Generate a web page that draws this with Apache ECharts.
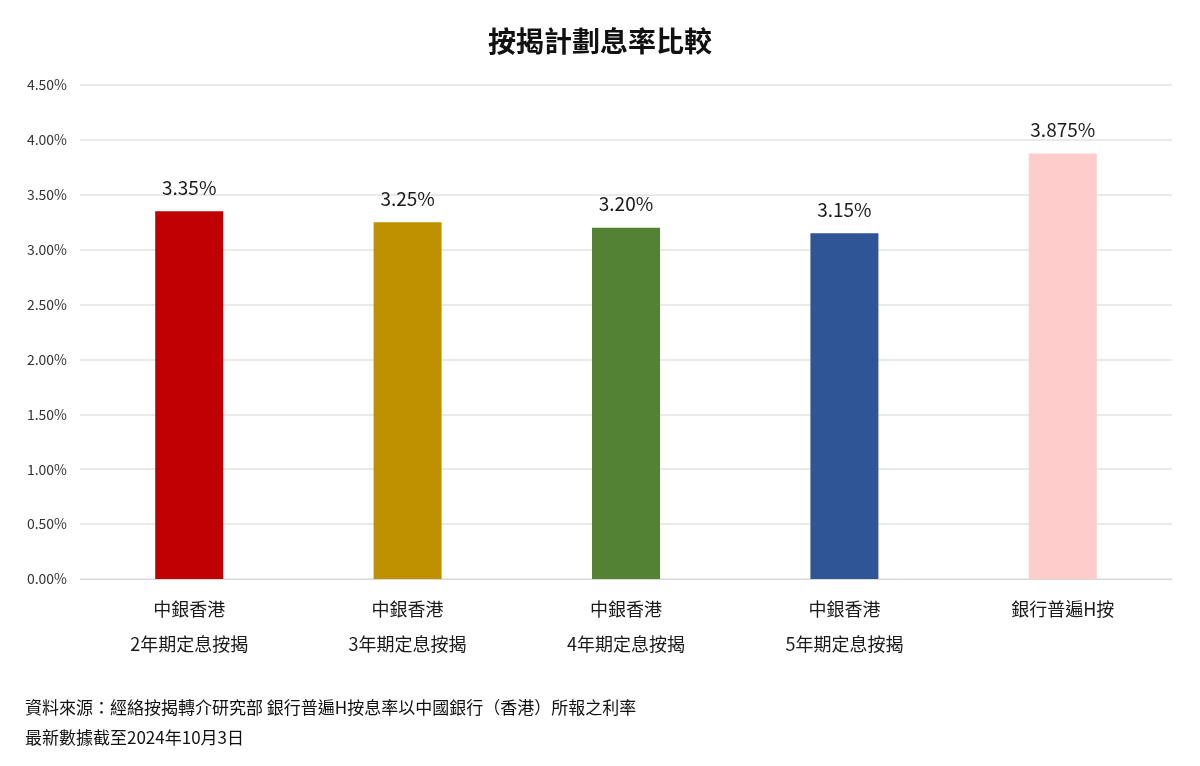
<!DOCTYPE html>
<html>
<head>
<meta charset="utf-8">
<script src="https://cdn.jsdelivr.net/npm/echarts@6/dist/echarts.min.js"></script>
<style>
html, body { margin: 0; padding: 0; background: #fff; }
#chart { width: 1200px; height: 766px; }
</style>
</head>
<body>
<div id="chart"></div>
<script>
// 分類 / 數值
var categories = ['中銀香港\n2年期定息按揭', '中銀香港\n3年期定息按揭', '中銀香港\n4年期定息按揭', '中銀香港\n5年期定息按揭', '銀行普遍H按'];
var rates = [3.35, 3.25, 3.20, 3.15, 3.875];
var rateLabels = ['3.35%', '3.25%', '3.20%', '3.15%', '3.875%'];
var barColors = ['#C00000', '#BF9000', '#548235', '#2F5597', '#FFCCCC'];
var yTicks = [0, 0.5, 1, 1.5, 2, 2.5, 3, 3.5, 4, 4.5];

var font = '"Noto Sans CJK TC", "Noto Sans", sans-serif';

var chart = echarts.init(document.getElementById('chart'));

var seriesData = [];
for (var i = 0; i < rates.length; i++) {
    seriesData.push({
        value: rates[i],
        itemStyle: { color: barColors[i] },
        label: { formatter: rateLabels[i] }
    });
}

chart.setOption({
    animation: false,
    textStyle: { fontFamily: font },
    title: {
        text: '按揭計劃息率比較',
        left: 'center',
        top: 22,
        textStyle: { fontSize: 28, fontWeight: 'bold', color: '#111', fontFamily: font }
    },
    grid: { left: 80, right: 28, top: 85, bottom: 187, containLabel: false },
    xAxis: {
        type: 'category',
        data: categories,
        axisTick: { show: false },
        axisLine: { lineStyle: { color: '#d9d9d9', width: 1 } },
        axisLabel: {
            color: '#1a1a1a',
            fontSize: 18,
            lineHeight: 35,
            margin: 13,
            fontFamily: font
        }
    },
    yAxis: {
        type: 'value',
        min: yTicks[0],
        max: yTicks[yTicks.length - 1],
        interval: 0.5,
        axisLine: { show: false },
        axisTick: { show: false },
        splitLine: { lineStyle: { color: '#e3e3e3', width: 1.5 } },
        axisLabel: {
            color: '#333',
            fontSize: 14,
            margin: 13,
            fontFamily: font,
            formatter: function (v) { return v.toFixed(2) + '%'; }
        }
    },
    series: [{
        type: 'bar',
        barWidth: 68,
        data: seriesData,
        label: {
            show: true,
            position: 'top',
            distance: 14,
            fontSize: 19,
            color: '#1a1a1a',
            fontFamily: font
        }
    }],
    graphic: [
        {
            type: 'text',
            left: 25,
            top: 699,
            style: { text: '資料來源：經絡按揭轉介研究部 銀行普遍H按息率以中國銀行（香港）所報之利率', fontSize: 17, fill: '#111', fontFamily: font }
        },
        {
            type: 'text',
            left: 25,
            top: 729,
            style: { text: '最新數據截至2024年10月3日', fontSize: 17, fill: '#111', fontFamily: font }
        }
    ]
});
</script>
</body>
</html>
